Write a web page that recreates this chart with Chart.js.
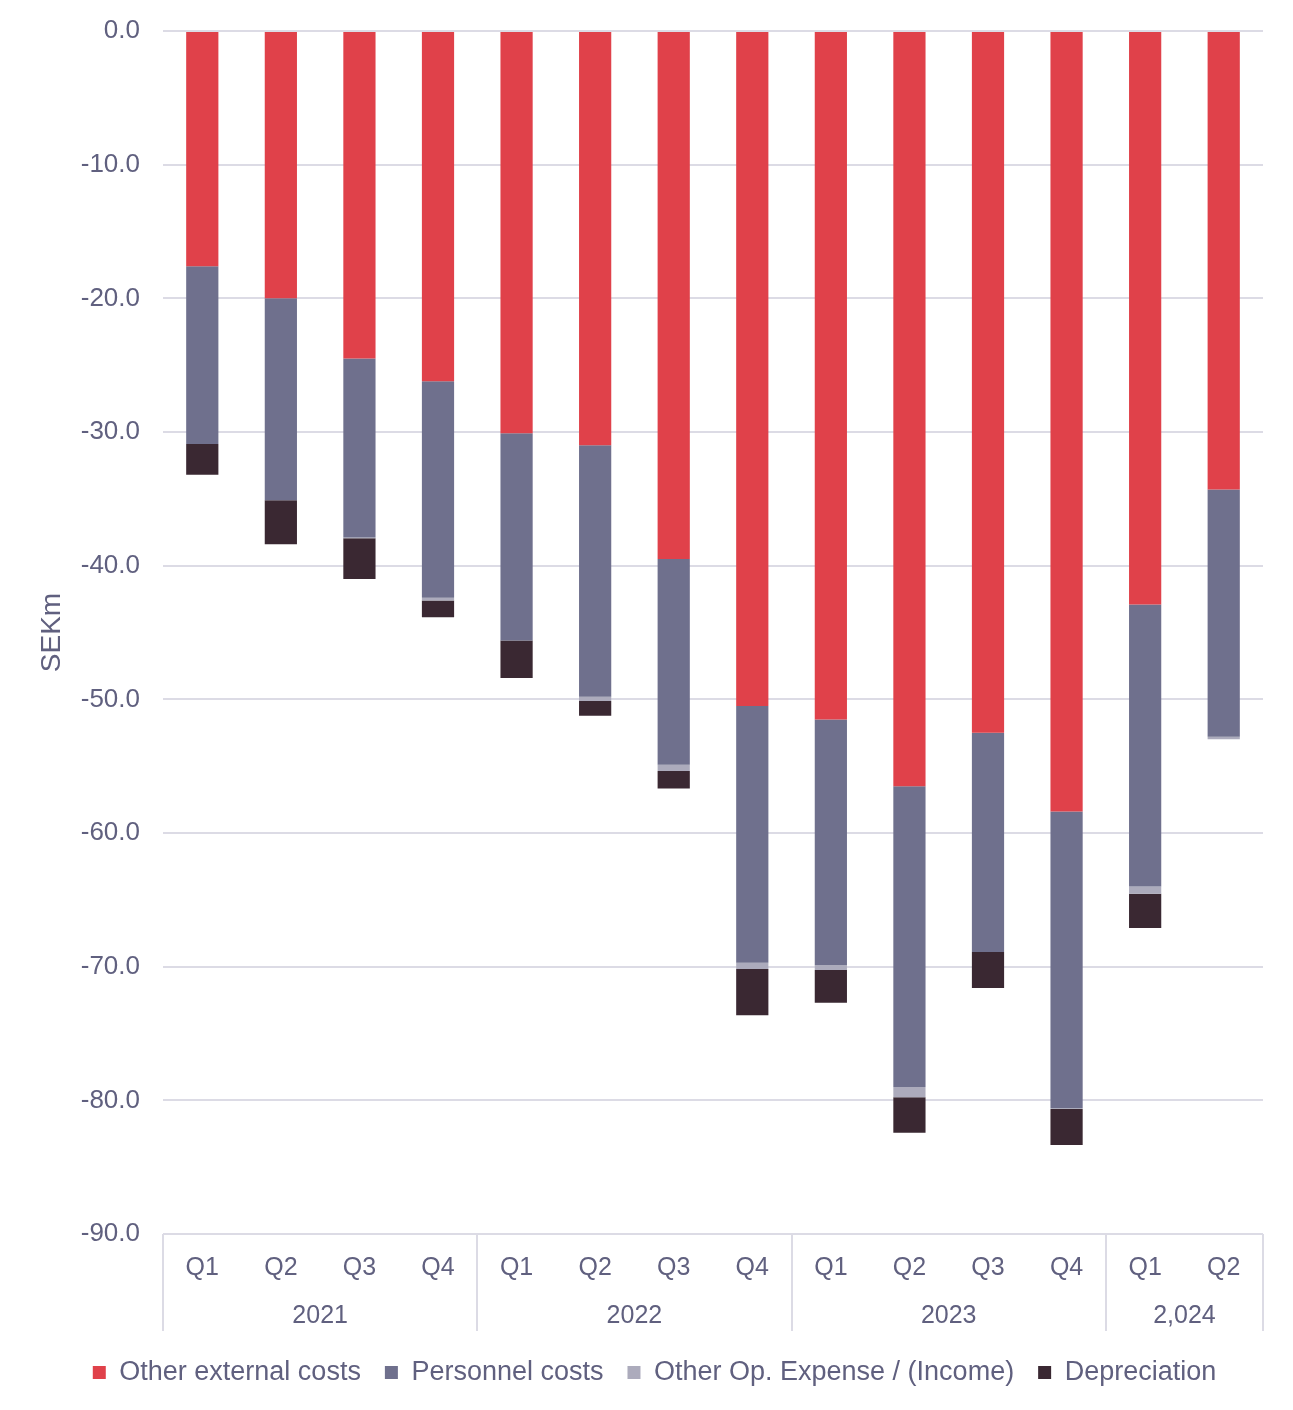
<!DOCTYPE html>
<html>
<head>
<meta charset="utf-8">
<script src="https://cdn.jsdelivr.net/npm/chart.js@4.4.1/dist/chart.umd.min.js"></script>
<style>
  html, body { margin: 0; padding: 0; background: #fff; }
  #wrap { width: 1293px; height: 1410px; }
</style>
</head>
<body>
<div id="wrap"><canvas id="grafico"></canvas></div>
<script>
// === DATOS ===
const trimestres = ['Q1', 'Q2', 'Q3', 'Q4', 'Q1', 'Q2', 'Q3', 'Q4', 'Q1', 'Q2', 'Q3', 'Q4', 'Q1', 'Q2'];
const anios = ['2021', '2022', '2023', '2,024'];
const trimestresPorAnio = [4, 4, 4, 2];

const otrosCostesExternos = [-17.6, -20.0, -24.5, -26.2, -30.1, -31.0, -39.5, -50.5, -51.5, -56.5, -52.5, -58.4, -42.9, -34.3];
const costesPersonal = [-13.3, -15.1, -13.4, -16.2, -15.5, -18.8, -15.4, -19.2, -18.4, -22.5, -16.4, -22.2, -21.1, -18.5];
const otrosGastosOp = [null, null, -0.05, -0.2, null, -0.33, -0.47, -0.48, -0.35, -0.77, null, -0.05, -0.55, -0.19];
const depreciacion = [-2.3, -3.3, -3.05, -1.25, -2.8, -1.1, -1.3, -3.45, -2.45, -2.65, -2.7, -2.7, -2.55, null];

const ticksY = [0, -10, -20, -30, -40, -50, -60, -70, -80, -90];

const colorTexto = '#60607f';
const colorRejilla = '#dcdbe5';
const fuente = "'Liberation Sans', Arial, sans-serif";

// === EJE X AGRUPADO POR AÑO ===
const ejeAnios = {
  id: 'ejeAnios',
  afterDraw(chart) {
    const x = chart.scales.x;
    const ctx = chart.ctx;
    const mitad = (x.getPixelForValue(1) - x.getPixelForValue(0)) / 2;
    const arriba = chart.chartArea.bottom;
    ctx.save();
    ctx.strokeStyle = colorRejilla;
    ctx.lineWidth = 2;
    ctx.fillStyle = colorTexto;
    ctx.font = '25px ' + fuente;
    ctx.textAlign = 'center';
    ctx.textBaseline = 'middle';
    let inicio = 0;
    const bordes = [x.getPixelForValue(0) - mitad];
    trimestresPorAnio.forEach((n, i) => {
      const fin = inicio + n - 1;
      const izq = x.getPixelForValue(inicio) - mitad;
      const der = x.getPixelForValue(fin) + mitad;
      bordes.push(der);
      ctx.fillText(anios[i], (izq + der) / 2, arriba + 82);
      inicio += n;
    });
    bordes.forEach(b => {
      ctx.beginPath();
      ctx.moveTo(Math.round(b), arriba);
      ctx.lineTo(Math.round(b), arriba + 97);
      ctx.stroke();
    });
    ctx.restore();
  }
};

const ctx = document.getElementById('grafico').getContext('2d');
new Chart(ctx, {
  type: 'bar',
  data: {
    labels: trimestres,
    datasets: [
      { label: 'Other external costs', data: otrosCostesExternos, backgroundColor: '#e0414a' },
      { label: 'Personnel costs', data: costesPersonal, backgroundColor: '#6f708d' },
      { label: 'Other Op. Expense / (Income)', data: otrosGastosOp, backgroundColor: '#acabbc' },
      { label: 'Depreciation', data: depreciacion, backgroundColor: '#3a2832' }
    ]
  },
  options: {
    responsive: true,
    maintainAspectRatio: false,
    animation: false,
    layout: { padding: { top: 0, right: 30, bottom: 14, left: 46 } },
    datasets: { bar: { barPercentage: 0.41, categoryPercentage: 1, borderWidth: 0 } },
    plugins: {
      tooltip: { enabled: false },
      legend: {
        position: 'bottom',
        labels: {
          color: colorTexto,
          font: { family: fuente, size: 27 },
          boxWidth: 13,
          boxHeight: 13,
          padding: 24
        }
      }
    },
    scales: {
      x: {
        stacked: true,
        grid: { display: false, drawTicks: false },
        border: { display: false },
        ticks: { color: colorTexto, font: { family: fuente, size: 25 }, padding: 19, maxRotation: 0 },
        afterFit(scale) { scale.height = 101; }
      },
      y: {
        stacked: true,
        min: -90,
        max: 0,
        afterBuildTicks(scale) { scale.ticks = ticksY.map(v => ({ value: v })); },
        ticks: {
          color: colorTexto,
          font: { family: fuente, size: 26 },
          padding: 23,
          callback: v => v.toFixed(1)
        },
        grid: { color: colorRejilla, lineWidth: 2, drawTicks: false },
        border: { display: false },
        title: {
          display: true,
          text: 'SEKm',
          color: colorTexto,
          font: { family: fuente, size: 28 },
          padding: { top: -11, bottom: 0 }
        },
        afterFit(scale) {
          scale.width = 117;
          scale.paddingTop = 31;
          scale.paddingBottom = 10;
        }
      }
    }
  },
  plugins: [ejeAnios]
});
</script>
</body>
</html>
